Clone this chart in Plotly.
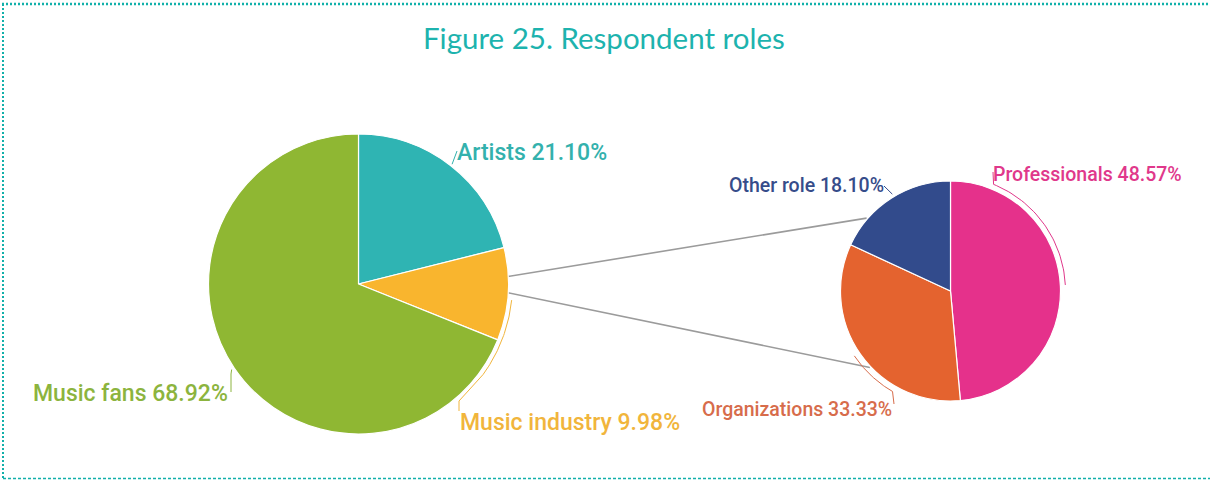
import math
import plotly.graph_objects as go

# ---- data -------------------------------------------------------------
main_labels = ["Artists", "Music industry", "Music fans"]
main_values = [21.10, 9.98, 68.92]
main_colors = ["#2fb4b3", "#f9b52e", "#8fb733"]
main_text_colors = ["#33b1ad", "#f1b53c", "#8cb43e"]

sub_labels = ["Professionals", "Organizations", "Other role"]
sub_values = [48.57, 33.33, 18.10]
sub_colors = ["#e5318b", "#e4632f", "#324b8c"]
sub_text_colors = ["#e0388b", "#d76c4b", "#364c8a"]

title_text = "Figure 25. Respondent roles"

# ---- canvas geometry (pixels, origin top-left) ------------------------
W, H = 1210, 480
L_CX, L_CY, L_R = 358.5, 284, 150      # main pie
R_CX, R_CY, R_R = 950.5, 291, 110      # breakdown pie


def pt(cx, cy, r, deg):
    """Point on a circle, angle measured clockwise from 12 o'clock."""
    a = math.radians(deg)
    return cx + r * math.sin(a), cy - r * math.cos(a)


def arc(cx, cy, r, a0, a1, n=40):
    xs, ys = [], []
    for i in range(n + 1):
        x, y = pt(cx, cy, r, a0 + (a1 - a0) * i / n)
        xs.append(x)
        ys.append(y)
    return xs, ys


def domain(cx, cy, r):
    return dict(x=[(cx - r) / W, (cx + r) / W],
                y=[(H - cy - r) / H, (H - cy + r) / H])


def cum_angles(values):
    total = sum(values)
    out, acc = [], 0.0
    for v in values:
        out.append((acc / total * 360, (acc + v) / total * 360))
        acc += v
    return out


fig = go.Figure()

fig.add_trace(go.Pie(
    labels=main_labels, values=main_values, sort=False,
    direction="clockwise", rotation=0, textinfo="none",
    marker=dict(colors=main_colors, line=dict(color="white", width=1.2)),
    domain=domain(L_CX, L_CY, L_R), hoverinfo="label+percent",
    showlegend=False,
))
fig.add_trace(go.Pie(
    labels=sub_labels, values=sub_values, sort=False,
    direction="clockwise", rotation=0, textinfo="none",
    marker=dict(colors=sub_colors, line=dict(color="white", width=1.2)),
    domain=domain(R_CX, R_CY, R_R), hoverinfo="label+percent",
    showlegend=False,
))

# ---- connector lines from the "Music industry" slice to the breakdown ---
main_ang = cum_angles(main_values)
mid_ind = (main_ang[1][0] + main_ang[1][1]) / 2
starts = [pt(L_CX, L_CY, L_R * 0.95, mid_ind - 6.5),
          pt(L_CX, L_CY, L_R * 0.95, mid_ind - 1.0)]
ends = [pt(R_CX, R_CY, R_R * 1.01, 311),
        pt(R_CX, R_CY, R_R * 1.01, 226.5)]
for (x0, y0), (x1, y1) in zip(starts, ends):
    fig.add_trace(go.Scatter(
        x=[x0, x1], y=[y0, y1], mode="lines",
        line=dict(color="#9b9b9b", width=1.6),
        hoverinfo="skip", showlegend=False,
    ))

# ---- leader lines for the labels --------------------------------------
def leader(xs, ys, color):
    fig.add_trace(go.Scatter(
        x=xs, y=ys, mode="lines", line=dict(color=color, width=1),
        hoverinfo="skip", showlegend=False,
    ))

# Artists: short tick from the rim
x0, y0 = pt(L_CX, L_CY, L_R + 2, 38)
leader([x0, 457], [y0, 151], main_text_colors[0])
# Music fans: rim to label end
x0, y0 = pt(L_CX, L_CY, L_R + 3, 236)
leader([x0, 231, 231], [y0, 374, 392], main_text_colors[2])
# Music industry: arc hugging the slice, then down to the label
ax, ay = arc(L_CX, L_CY, L_R + 4, 96, 126)
leader(ax + [459, 459], ay + [401, 411], main_text_colors[1])
# Professionals: arc on the rim, tied to the label start
ax, ay = arc(R_CX, R_CY, R_R + 5, 87, 22)
leader(ax + [993], ay + [172], sub_text_colors[0])
# Organizations
ax, ay = arc(R_CX, R_CY, R_R + 6, 236, 210)
leader(ax + [894], ay + [404], sub_text_colors[1])
# Other role
x0, y0 = pt(R_CX, R_CY, R_R + 3, 329)
leader([884, x0], [186, y0], sub_text_colors[2])

# ---- labels ------------------------------------------------------------
LABEL_FONT = "Roboto"
ann = []


def label(text, x, y, anchor, color, size):
    ann.append(dict(
        text=text, x=x, y=y, xref="x", yref="y", xanchor=anchor,
        yanchor="middle", showarrow=False,
        font=dict(family=LABEL_FONT, size=size, color=color, weight=500),
    ))


def fmt(name, v):
    return f"{name} {v:.2f}%"


label(fmt(main_labels[0], main_values[0]), 455, 152, "left", main_text_colors[0], 23)
label(fmt(main_labels[2], main_values[2]), 230, 393, "right", main_text_colors[2], 23)
label(fmt(main_labels[1], main_values[1]), 458, 422, "left", main_text_colors[1], 23)
label(fmt(sub_labels[2], sub_values[2]), 886, 185, "right", sub_text_colors[2], 19.5)
label(fmt(sub_labels[0], sub_values[0]), 991, 174, "left", sub_text_colors[0], 19.5)
label(fmt(sub_labels[1], sub_values[1]), 894, 409, "right", sub_text_colors[1], 19.5)

ann.append(dict(
    text=title_text, x=604, y=37, xref="x", yref="y", xanchor="center",
    yanchor="middle", showarrow=False,
    font=dict(family="Lato", size=29.5, color="#1db3ae", weight=400),
))

# ---- dotted frame (top, left, bottom) ----------------------------------
frame_color = "#12b0aa"
shapes = [
    dict(type="line", xref="x", yref="y", x0=2, x1=1208, y0=4, y1=4,
         line=dict(color=frame_color, width=2.5, dash="2px,2px")),
    dict(type="line", xref="x", yref="y", x0=3, x1=3, y0=4, y1=479,
         line=dict(color=frame_color, width=2, dash="2px,2px")),
    dict(type="line", xref="x", yref="y", x0=3, x1=1210, y0=478.5, y1=478.5,
         line=dict(color=frame_color, width=1.5, dash="3px,2px")),
]

fig.update_layout(
    width=W, height=H, margin=dict(l=0, r=0, t=0, b=0),
    paper_bgcolor="white", plot_bgcolor="rgba(0,0,0,0)",
    xaxis=dict(range=[0, W], visible=False, fixedrange=True),
    yaxis=dict(range=[H, 0], visible=False, fixedrange=True),
    annotations=ann, shapes=shapes,
)

fig.write_html("out.html")
